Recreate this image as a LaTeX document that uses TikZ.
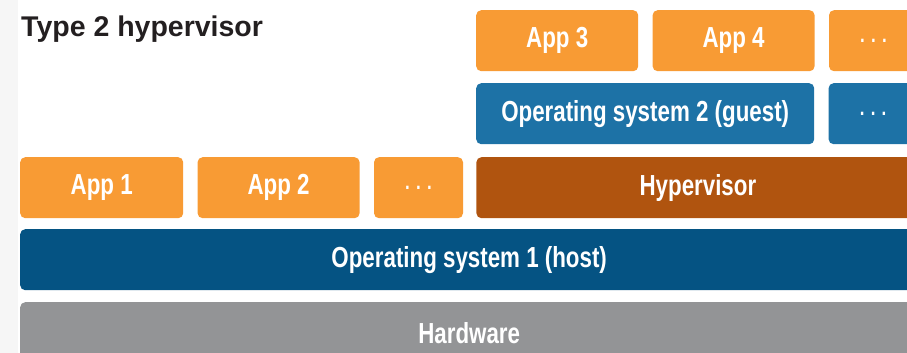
\documentclass[tikz,border=0pt]{standalone}
\usepackage{fontspec}
\setmainfont{Liberation Sans}
\newfontfamily\boxfont{Liberation Sans}[FakeStretch=0.77]
\usetikzlibrary{positioning}

\definecolor{apporange}{HTML}{F89B34}
\definecolor{guestblue}{HTML}{1D72A6}
\definecolor{hostblue}{HTML}{055383}
\definecolor{hyperbrown}{HTML}{B0540F}
\definecolor{hwgray}{HTML}{939496}
\definecolor{titlegray}{HTML}{231F20}

\begin{document}
\begin{tikzpicture}[x=1pt,y=-1pt,
    layer/.style={rounded corners=5pt,inner sep=0pt,minimum height=61pt,
      text=white,font=\boxfont\bfseries\fontsize{29}{29}\selectfont},
    app/.style={layer,fill=apporange,minimum width=162pt},
    more/.style={layer,fill=apporange,minimum width=89pt,
      font=\boxfont\bfseries\fontsize{22}{22}\selectfont}]
\clip (0,0) rectangle (907,353);
\fill[gray!7] (0,0) rectangle (18,353);
\node[anchor=base west,inner sep=0pt,text=titlegray,
  font=\bfseries\fontsize{28.5}{28.5}\selectfont] (title) at (21,37) {Type 2 hypervisor};
% guest side
\node[app,anchor=north west] (app3) at (476,10) {App 3};
\node[app,right=14pt of app3] (app4) {App 4};
\node[more,right=14pt of app4] (moreapps) {. . .};
\node[layer,anchor=north west,fill=guestblue,minimum width=338pt] (guestos) at (476,83) {Operating system 2 (guest)};
\node[more,fill=guestblue,right=14pt of guestos] (moreos) {. . .};
% host side
\node[app,anchor=north west,minimum width=163pt] (app1) at (20,157) {App 1};
\node[app,right=14pt of app1] (app2) {App 2};
\node[more,right=14pt of app2] (morehost) {. . .};
\node[layer,fill=hyperbrown,minimum width=443pt,right=13pt of morehost] (hyper) {Hypervisor};
\node[layer,anchor=north west,fill=hostblue,minimum width=898pt] (hostos) at (20,229) {Operating system 1 (host)};
\node[layer,anchor=north west,fill=hwgray,minimum width=898pt] (hw) at (20,302) {Hardware};
\end{tikzpicture}
\end{document}
